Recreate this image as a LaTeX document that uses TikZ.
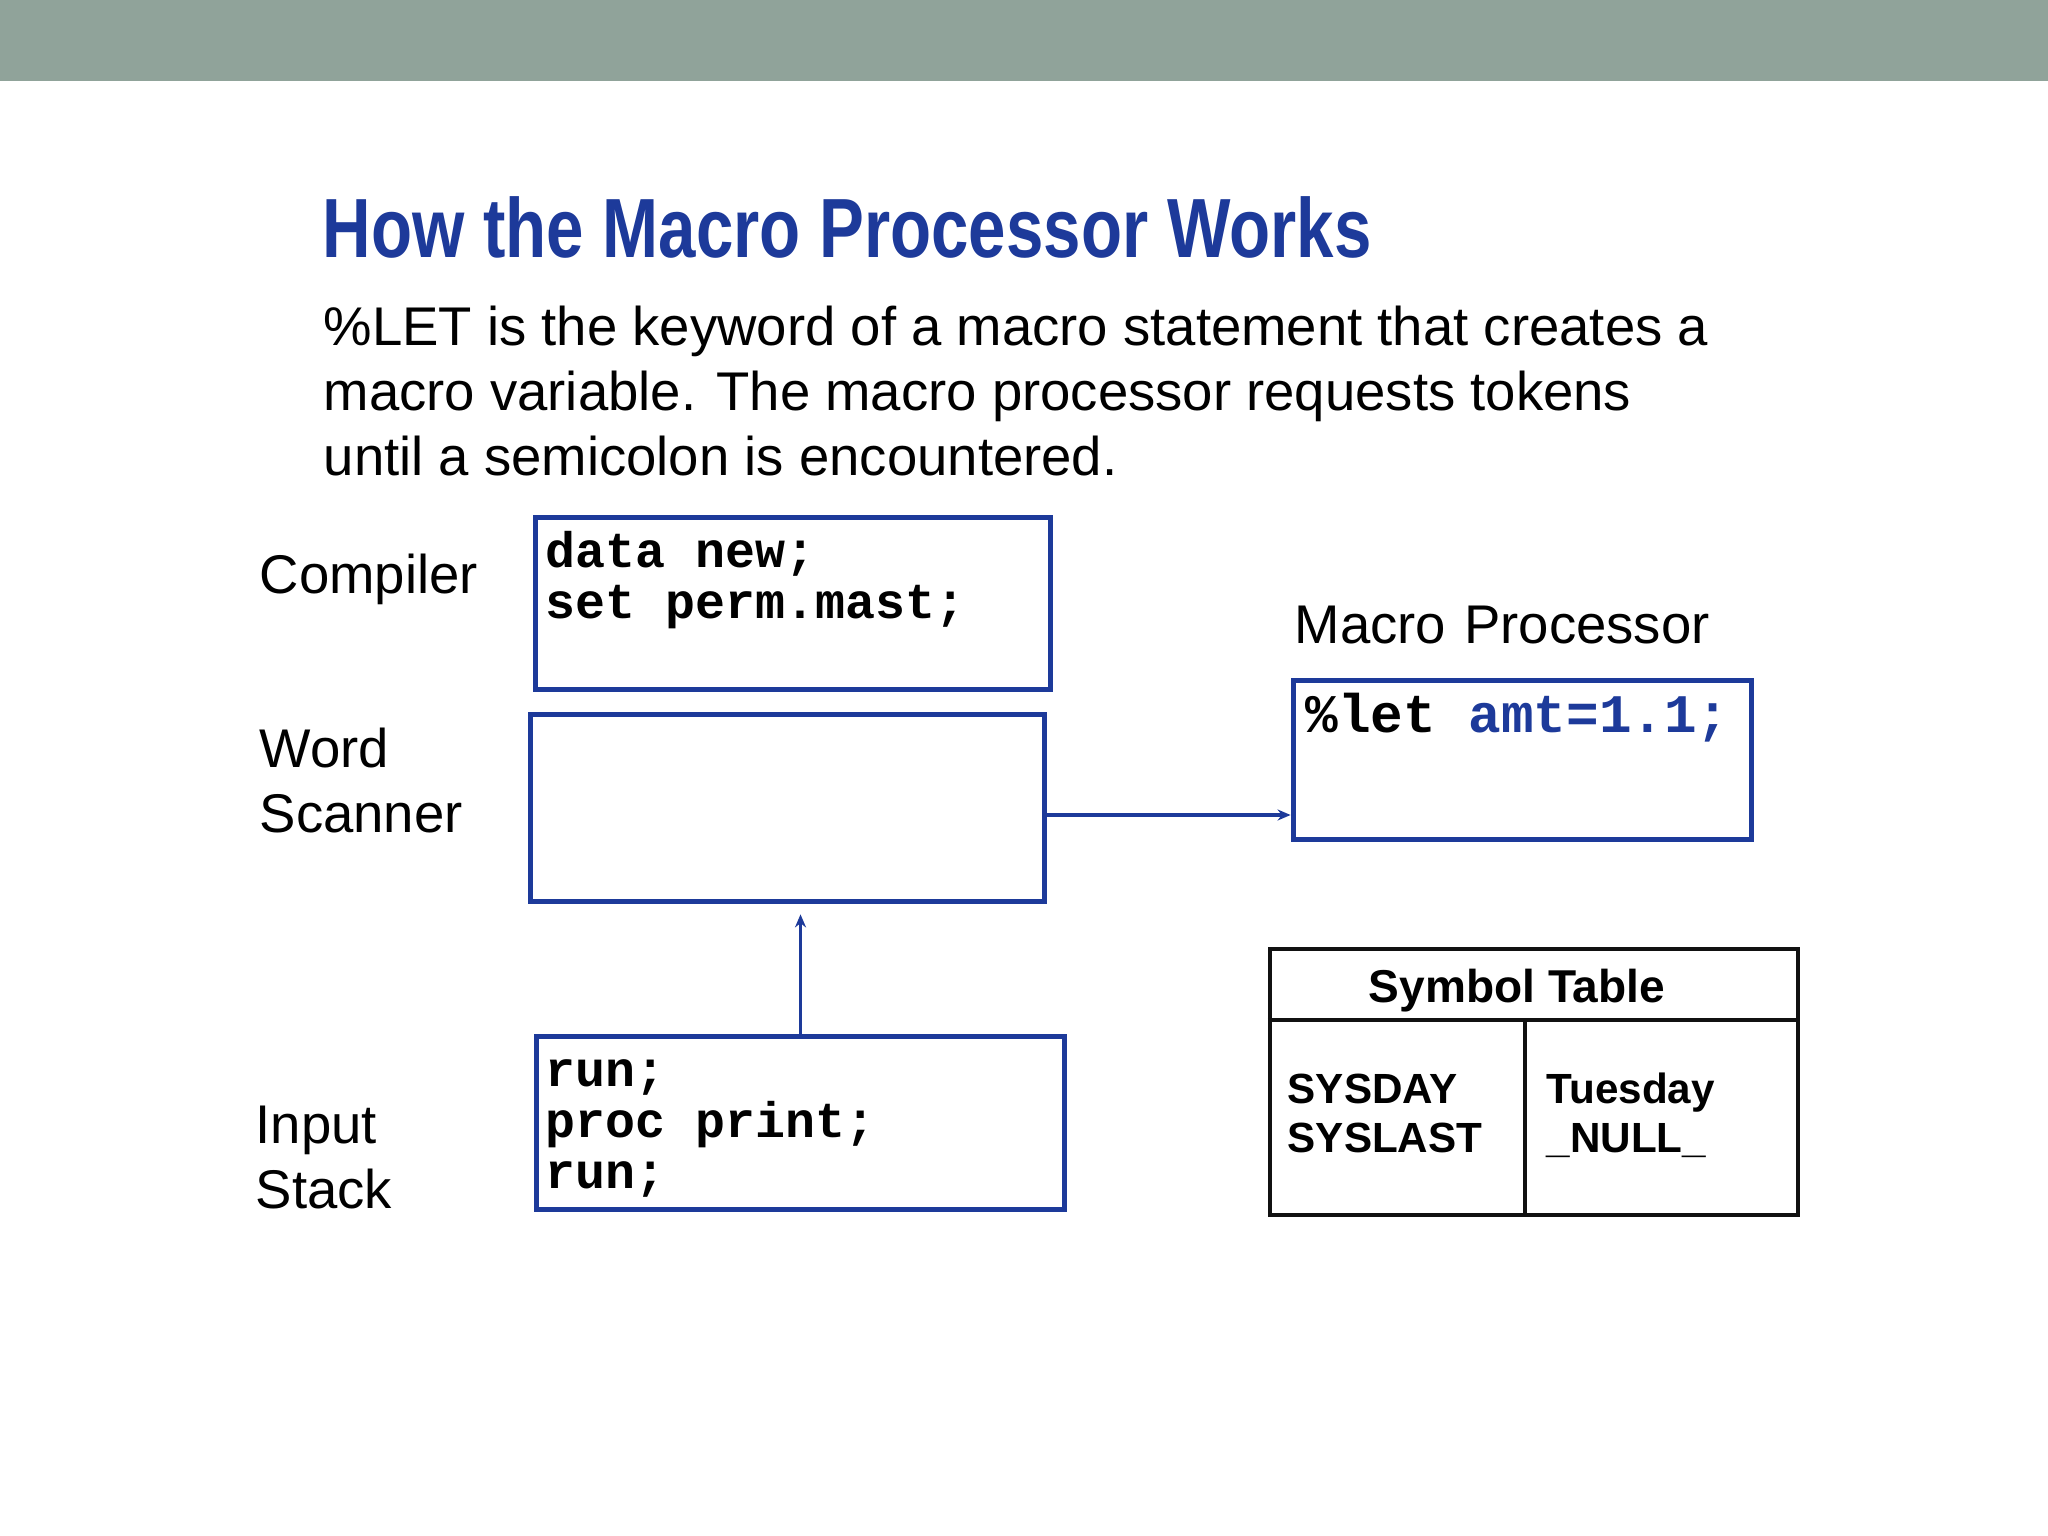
\documentclass[tikz,border=0pt]{standalone}
\usepackage{fontspec}
\setmainfont{Liberation Sans}
\setmonofont{Liberation Mono}[WordSpace={1,0,0}]
\newfontfamily\titlefont[FakeStretch=0.80]{Liberation Sans Bold}
\usetikzlibrary{arrows.meta, positioning, calc}
\definecolor{sasblue}{HTML}{1D3A9A}
\definecolor{barfill}{HTML}{90A39A}
\definecolor{tblline}{HTML}{111111}
\newcommand{\codefont}[1]{\fontsize{#1}{14.6}\selectfont\ttfamily\bfseries}
\tikzset{
  boxblk/.style  = {rectangle, draw=sasblue, line width=1.6pt, fill=white, inner sep=0pt},
  tblbox/.style  = {rectangle, draw=tblline, line width=1.1pt, fill=white, inner sep=0pt},
  titletxt/.style= {anchor=base west, inner sep=0pt, text=sasblue,
                    font=\fontsize{23.9}{28}\selectfont\titlefont},
  bodytxt/.style = {anchor=base west, inner sep=0pt, font=\fontsize{15.5}{18.5}\selectfont},
  lbl/.style     = {anchor=base west, inner sep=0pt, align=left, text width=5cm,
                    font=\fontsize{15.5}{18.5}\selectfont},
  codetxt/.style = {anchor=base west, inner sep=0pt, text width=5cm,
                    font=\codefont{14.2}, execute at begin node={\spaceskip=0.6em\relax}},
  tblhead/.style = {anchor=base, inner sep=0pt, font=\fontsize{13.1}{15}\selectfont\bfseries},
  tblent/.style  = {anchor=base west, inner sep=0pt, align=left, text width=2.4cm,
                    font=\fontsize{12}{14.2}\selectfont\bfseries},
  flow/.style    = {-{Stealth[length=1.3mm, width=1.1mm]}, line width=0.9pt, draw=sasblue},
  tblrule/.style = {line width=1.1pt, draw=tblline},
}
\begin{document}
\begin{tikzpicture}[x=0.01cm, y=-0.01cm]
  \useasboundingbox (0,0) rectangle (2048,1536);
  \fill[white] (0,0) rectangle (2048,1536);
  \fill[barfill] (0,0) rectangle (2048,81);
  % heading and text
  \node[titletxt] (title) at (322,257) {How the Macro Processor Works};
  \foreach \i/\ln in {
    0/{\%LET is the keyword of a macro statement that creates a},
    1/{macro variable. The macro processor requests tokens},
    2/{until a semicolon is encountered.}}{
    \node[bodytxt] (body\i) at (323,{345+65*\i}) {\ln};
  }
  % left side
  \node[lbl] (lcmp) at (259,593) {Compiler};
  \node[lbl] (lws) at (259,767) {Word\\Scanner};
  \node[lbl] (linp) at (255,1143) {Input\\Stack};
  \node[boxblk, minimum width=5.15cm, minimum height=1.72cm] (cmp) at (793,603.5) {};
  \node[boxblk, minimum width=5.14cm, minimum height=1.87cm] (ws) at (787.5,808) {};
  \node[boxblk, minimum width=5.28cm, minimum height=1.73cm] (inp) at (800.5,1123) {};
  \node[codetxt] (cmpcode) at (545,567) {data new;\\set perm.mast;};
  \node[codetxt] (inpcode) at (545,1086) {run;\\proc print;\\run;};
  % right side
  \node[lbl] (lmp) at (1294,643) {Macro Processor};
  \node[boxblk, minimum width=4.58cm, minimum height=1.59cm] (mp) at (1522.5,760) {};
  \node[codetxt, font=\codefont{15.45}] (mpcode) at (1305,732)
    {\%let \textcolor{sasblue}{amt=1.1;}};
  \node[tblbox, minimum width=5.28cm, minimum height=2.66cm] (symtab) at (1534,1082) {};
  \coordinate (hdrl) at ($(symtab.north west)+(0,73)$);
  \coordinate (hdrr) at (symtab.east |- hdrl);
  \coordinate (colt) at (1525,1022);
  \coordinate (colb) at (colt |- symtab.south);
  \draw[tblrule] (hdrl) -- (hdrr);
  \draw[tblrule] (colt) -- (colb);
  \node[tblhead] (symhead) at (1517,1002) {Symbol Table};
  \node[tblent] (symnames) at (1287,1103) {SYSDAY\\SYSLAST};
  \node[tblent] (symvals) at (1546,1103) {Tuesday\\\_NULL\_};
  % connectors
  \draw[flow] ($(ws.east)+(0,7)$) -- ($(ws.east -| mp.west)+(0,7)$);
  \draw[flow, shorten >=1mm] (inp.north) -- (inp.north |- ws.south);
\end{tikzpicture}
\end{document}
